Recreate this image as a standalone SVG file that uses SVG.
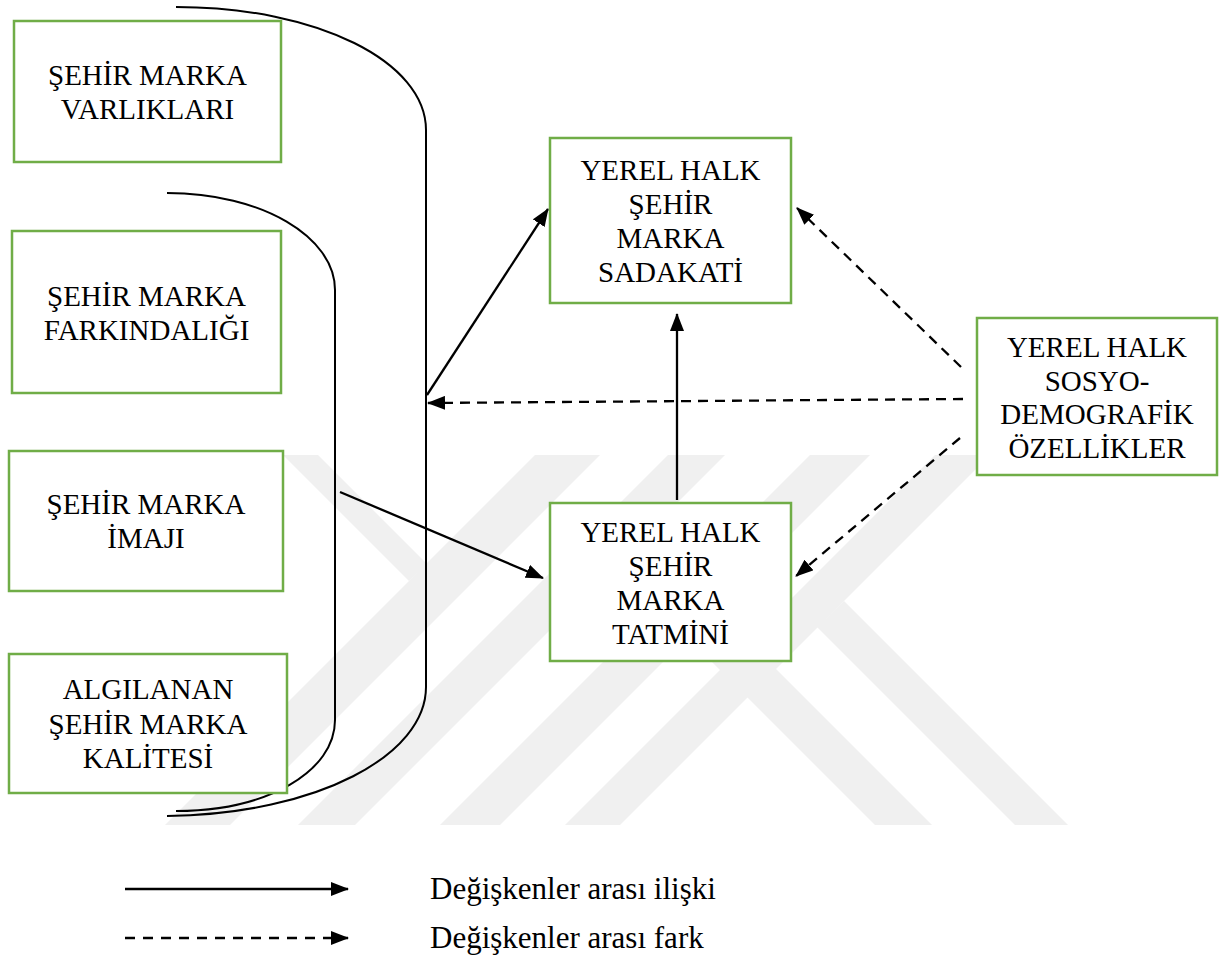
<svg xmlns="http://www.w3.org/2000/svg" width="1220" height="970" viewBox="0 0 1220 970">
  <defs>
    <style>
      .box { fill: #ffffff; stroke: #70ad47; stroke-width: 2.5; }
      .lbl { font-family: "Liberation Serif", "Times New Roman", serif; font-size: 29px; fill: #000; text-anchor: middle; }
      .leg { font-family: "Liberation Serif", "Times New Roman", serif; font-size: 31px; fill: #000; }
      .solid { fill: none; stroke: #000; stroke-width: 2.3; marker-end: url(#head); }
      .dash { fill: none; stroke: #000; stroke-width: 2.3; stroke-dasharray: 10 7; marker-end: url(#head); }
      .brace { fill: none; stroke: #000; stroke-width: 2; }
      .wm { fill: #f0f0f0; }
    </style>
    <marker id="head" viewBox="0 0 18 14" markerWidth="18" markerHeight="14" refX="17" refY="7" orient="auto" markerUnits="userSpaceOnUse">
      <path d="M0,0 L18,7 L0,14 Z" fill="#000"/>
    </marker>
  </defs>

  <rect width="1220" height="970" fill="#ffffff"/>

  <!-- faint background emblem -->
  <g id="emblem">
    <polygon class="wm" points="535,455 600,455 230,825 165,825"/>
    <polygon class="wm" points="668,455 725,455 355,825 298,825"/>
    <polygon class="wm" points="810,455 870,455 500,825 440,825"/>
    <polygon class="wm" points="935,455 990,455 620,825 565,825"/>
    <polygon class="wm" points="283,455 318,455 427,564 409,581"/>
    <polygon class="wm" points="844,601 1068,825 1015,825 817,627"/>
    <polygon class="wm" points="716,609 932,825 875,825 687,637"/>
  </g>

  <!-- grouping brackets -->
  <g id="brackets">
    <path class="brace" d="M176,7 C318,7 426,62 426,130 L426,687 C426,755 318,814 167,816"/>
    <path class="brace" d="M167,193 C262,193 335,237 335,290 L335,720 C335,771 268,811 176,811"/>
  </g>

  <!-- connectors -->
  <g id="connectors">
    <path class="solid" d="M427,395 L548,209"/>
    <path class="solid" d="M677,500 L677,314"/>
    <path class="solid" d="M340,492 L543,578"/>
    <path class="dash" d="M963,399 L428,403"/>
    <path class="dash" d="M961,367 L797,208"/>
    <path class="dash" d="M960,438 L796,576"/>
  </g>

  <g id="n-varliklari">
    <rect class="box" x="14" y="21" width="267" height="141"/>
    <text class="lbl" x="147.5" y="85">ŞEHİR MARKA</text>
    <text class="lbl" x="147.5" y="119">VARLIKLARI</text>
  </g>

  <g id="n-farkindalik">
    <rect class="box" x="12" y="231" width="269" height="162"/>
    <text class="lbl" x="146.5" y="306">ŞEHİR MARKA</text>
    <text class="lbl" x="146.5" y="340">FARKINDALIĞI</text>
  </g>

  <g id="n-imaj">
    <rect class="box" x="9" y="451" width="274" height="140"/>
    <text class="lbl" x="146" y="514">ŞEHİR MARKA</text>
    <text class="lbl" x="146" y="548">İMAJI</text>
  </g>

  <g id="n-kalite">
    <rect class="box" x="9" y="654" width="278" height="139"/>
    <text class="lbl" x="148" y="699">ALGILANAN</text>
    <text class="lbl" x="148" y="734">ŞEHİR MARKA</text>
    <text class="lbl" x="148" y="768">KALİTESİ</text>
  </g>

  <g id="n-sadakat">
    <rect class="box" x="550" y="138" width="241" height="165"/>
    <text class="lbl" x="670.5" y="180">YEREL HALK</text>
    <text class="lbl" x="670.5" y="214">ŞEHİR</text>
    <text class="lbl" x="670.5" y="248">MARKA</text>
    <text class="lbl" x="670.5" y="282">SADAKATİ</text>
  </g>

  <g id="n-tatmin">
    <rect class="box" x="550" y="503" width="241" height="158"/>
    <text class="lbl" x="670.5" y="542">YEREL HALK</text>
    <text class="lbl" x="670.5" y="576">ŞEHİR</text>
    <text class="lbl" x="670.5" y="610">MARKA</text>
    <text class="lbl" x="670.5" y="644">TATMİNİ</text>
  </g>

  <g id="n-sosyo">
    <rect class="box" x="977" y="318" width="240" height="157"/>
    <text class="lbl" x="1097" y="357">YEREL HALK</text>
    <text class="lbl" x="1097" y="391">SOSYO-</text>
    <text class="lbl" x="1097" y="424">DEMOGRAFİK</text>
    <text class="lbl" x="1097" y="458">ÖZELLİKLER</text>
  </g>

  <!-- legend -->
  <g id="legend">
    <path class="solid" d="M125,889 L348,889"/>
    <path class="dash" d="M125,938 L348,938" style="stroke-dasharray: 10 8"/>
    <text class="leg" x="430" y="899">Değişkenler arası ilişki</text>
    <text class="leg" x="430" y="948">Değişkenler arası fark</text>
  </g>
</svg>
